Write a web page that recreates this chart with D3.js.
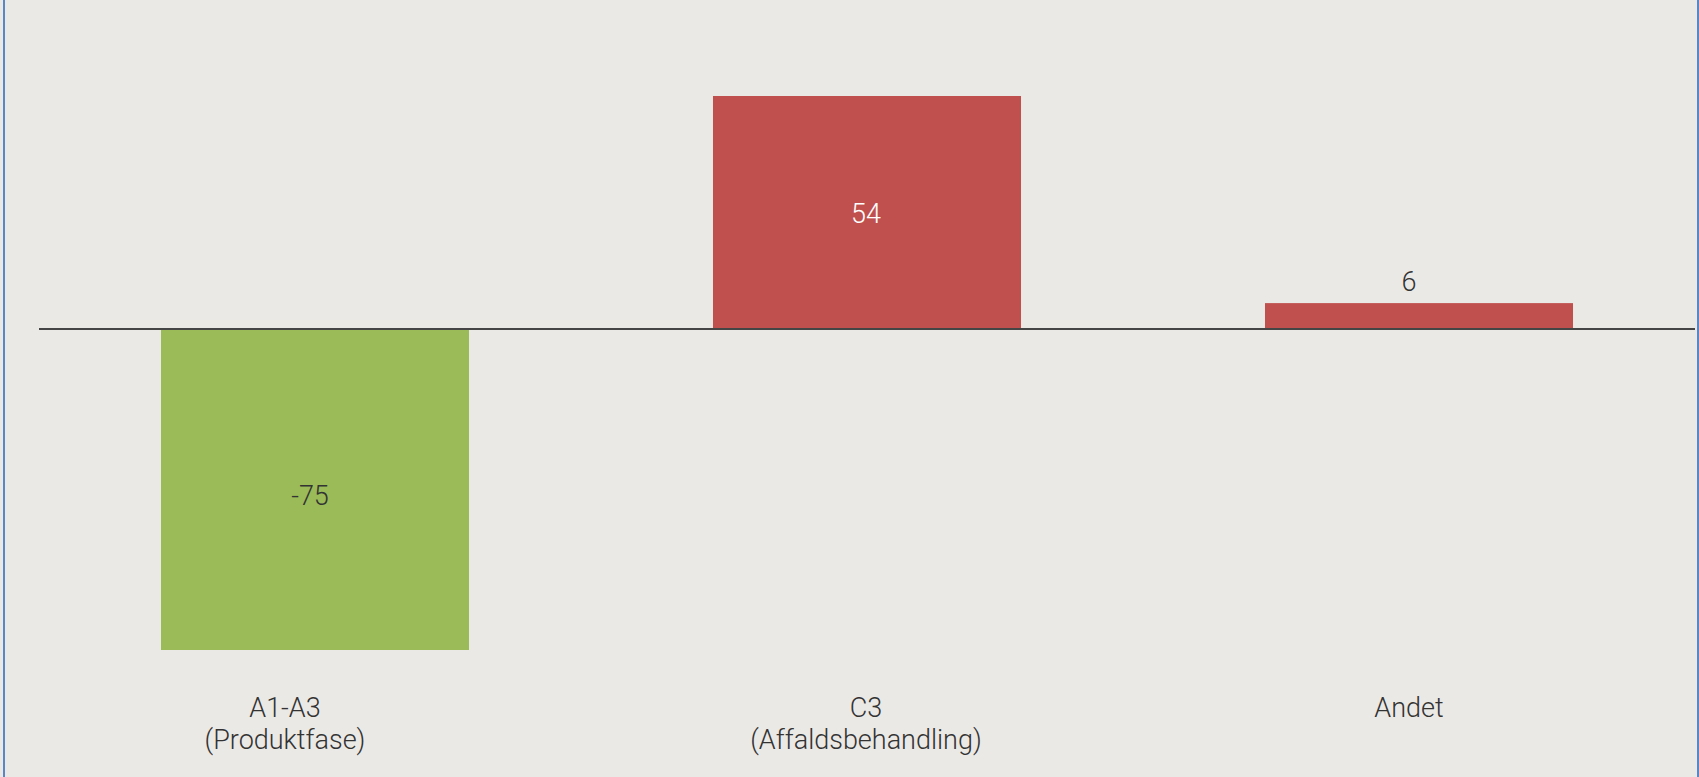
<!DOCTYPE html>
<html>
<head>
<meta charset="utf-8">
<script src="https://cdn.jsdelivr.net/npm/d3@7"></script>
<style>
  html, body { margin: 0; padding: 0; background: #ebe9e5; }
  svg { display: block; }
  text { font-family: Roboto, "Liberation Sans", sans-serif; font-weight: 300; }
</style>
</head>
<body>
<script>
const categories = ["A1-A3", "C3", "Andet"];
const subLabels = ["(Produktfase)", "(Affaldsbehandling)", ""];
const values = [-75, 54, 6];
const valueLabels = ["-75", "54", "6"];
const barColors = ["#9bbb59", "#c0504d", "#c0504d"];

const W = 1699, H = 777;
// layout tweaks (text anchor shifts relative to bar centre, px)
const catShift = [-30, -1, -10];
const valShift = [-5, -1, -10];

const svg = d3.select("body").append("svg").attr("width", W).attr("height", H);

svg.append("rect").attr("width", W).attr("height", H).attr("fill", "#ebe9e5");

const x = d3.scaleBand().domain(categories).range([39, 1695]).paddingInner(0.442).paddingOuter(0.221);
const y = d3.scaleLinear().domain([-75, 54]).range([650, 96]);
const zeroY = 329;
const yv = v => v === 0 ? zeroY : (v > 0 ? zeroY - (zeroY - y(54)) * v / 54 : zeroY + (y(-75) - zeroY) * v / -75);
const cx = i => x(categories[i]) + x.bandwidth() / 2;

// bars
svg.selectAll("rect.bar").data(values).enter().append("rect")
  .attr("class", "bar")
  .attr("x", (d, i) => x(categories[i]))
  .attr("width", x.bandwidth())
  .attr("y", d => Math.min(yv(d), zeroY))
  .attr("height", d => Math.abs(yv(d) - zeroY))
  .attr("fill", (d, i) => barColors[i]);

// zero axis line
svg.append("line").attr("x1", 39).attr("x2", 1695).attr("y1", zeroY).attr("y2", zeroY)
  .attr("stroke", "#454545").attr("stroke-width", 2);

// value labels
svg.selectAll("text.val").data(values).enter().append("text")
  .attr("class", "val")
  .attr("x", (d, i) => cx(i) + valShift[i])
  .attr("y", (d, i) => {
    const h = Math.abs(yv(d) - zeroY);
    if (h < 50) return yv(d) - 12;
    return (yv(d) + zeroY) / 2 + (d < 0 ? 15.5 : 10);
  })
  .attr("text-anchor", "middle")
  .attr("font-size", 27)
  .attr("fill", (d, i) => (d > 0 && Math.abs(yv(d) - zeroY) >= 50) ? "#ffffff" : "#333333")
  .text((d, i) => valueLabels[i]);

// category labels
const cat = svg.selectAll("g.cat").data(categories).enter().append("g").attr("class", "cat");
cat.append("text")
  .attr("x", (d, i) => cx(i) + catShift[i])
  .attr("y", 717)
  .attr("text-anchor", "middle").attr("font-size", 27).attr("fill", "#333333")
  .text(d => d);
cat.append("text")
  .attr("x", (d, i) => cx(i) + catShift[i])
  .attr("y", 749)
  .attr("text-anchor", "middle").attr("font-size", 27).attr("fill", "#333333")
  .text((d, i) => subLabels[i]);

// frame side borders
svg.append("line").attr("x1", 4).attr("x2", 4).attr("y1", 0).attr("y2", H)
  .attr("stroke", "#5b86c5").attr("stroke-width", 2);
svg.append("line").attr("x1", 1698).attr("x2", 1698).attr("y1", 0).attr("y2", H)
  .attr("stroke", "#5b86c5").attr("stroke-width", 2);
</script>
</body>
</html>
